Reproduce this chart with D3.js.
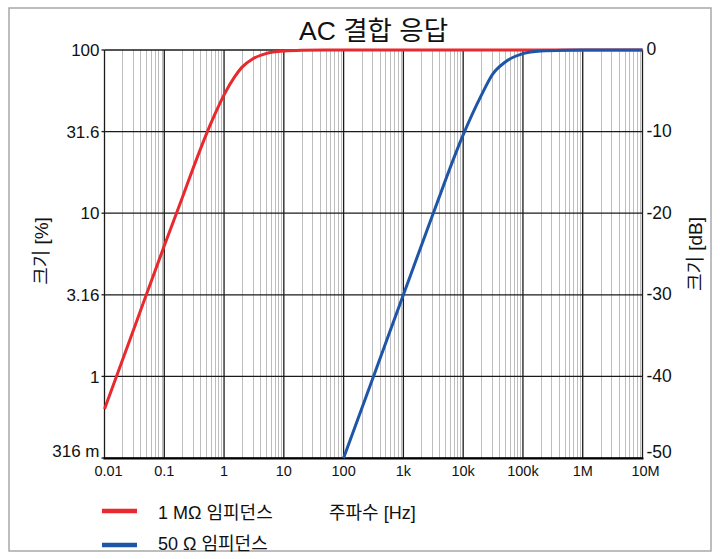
<!DOCTYPE html>
<html>
<head>
<meta charset="utf-8">
<script src="https://cdn.jsdelivr.net/npm/d3@7"></script>
<style>
  body { margin: 0; background: #fff; }
  svg text { font-family: "Liberation Sans", Arial, "Noto Sans CJK KR", sans-serif; fill: #111; }
</style>
</head>
<body>
<div class="container"></div>
<script>
const width = 720;
const height = 559;
const margin = { top: 50, bottom: 101, left: 104.5, right: 77.5 }

// data: frequency [Hz] and magnitude [dB]
const freqRed = [0.01, 0.02, 0.05, 0.1, 0.2, 0.3, 0.5, 0.7, 1, 1.5, 2, 3, 5, 10, 20, 50, 1e7]
const dbRed = [-44, -38, -30, -24, -18.1, -14.6, -10.4, -7.9, -5.5, -3.3, -2.1, -1.1, -0.45, -0.12, -0.03, 0, 0]

const freqBlue = [100, 316, 1000, 3160, 10000, 20000, 31600, 50000, 100000, 200000, 500000, 1e6, 1e7]
const dbBlue = [-50, -40, -30, -20, -10.4, -5.6, -2.9, -1.5, -0.45, -0.12, -0.02, 0, 0]

const xTicks = [0.01, 0.1, 1, 10, 100, 1e3, 1e4, 1e5, 1e6, 1e7]
const xTickLabels = ["0.01", "0.1", "1", "10", "100", "1k", "10k", "100k", "1M", "10M"]
const dbTicks = [0, -10, -20, -30, -40, -50]
const pctTickLabels = ["100", "31.6", "10", "3.16", "1", "316 m"]

const seriesNames = ["1 MΩ 임피던스", "50 Ω 임피던스"]
const seriesColors = ["#e8292e", "#1f55a6"]

const xScale = d3.scaleLog()
    .domain([0.01, 1e7])
    .range([margin.left, width - margin.right]);

const yScale = d3.scaleLinear()
    .domain([-50, 0])
    .range([height - margin.bottom, margin.top]);

const svg = d3.select(".container")
    .append("svg")
    .attr("width", width)
    .attr("height", height);

// outer frame
svg.append("rect")
    .attr("x", 9).attr("y", 8)
    .attr("width", 702).attr("height", 543)
    .attr("fill", "none")
    .attr("stroke", "#a8a8a8")
    .attr("stroke-width", 1.5);

// minor vertical grid
const minor = [];
for (let e = -2; e < 7; e++) {
    for (let m = 2; m <= 9; m++) minor.push(m * Math.pow(10, e));
}
svg.append("g")
    .selectAll("line")
    .data(minor)
    .join("line")
    .attr("x1", d => Math.round(xScale(d)) + 0.5)
    .attr("x2", d => Math.round(xScale(d)) + 0.5)
    .attr("y1", yScale(0))
    .attr("y2", yScale(-50))
    .attr("stroke", "#bdbdbd")
    .attr("stroke-width", 1);

// major vertical grid
svg.append("g")
    .selectAll("line")
    .data(xTicks)
    .join("line")
    .attr("x1", d => xScale(d))
    .attr("x2", d => xScale(d))
    .attr("y1", yScale(0))
    .attr("y2", yScale(-50))
    .attr("stroke", "#1a1a1a")
    .attr("stroke-width", 1.3);

// horizontal grid
svg.append("g")
    .selectAll("line")
    .data(dbTicks)
    .join("line")
    .attr("x1", xScale(0.01))
    .attr("x2", xScale(1e7))
    .attr("y1", d => yScale(d))
    .attr("y2", d => yScale(d))
    .attr("stroke", "#1a1a1a")
    .attr("stroke-width", 1.3);

// left stubs
svg.append("g")
    .selectAll("line")
    .data(dbTicks)
    .join("line")
    .attr("x1", xScale(0.01) - 3)
    .attr("x2", xScale(0.01))
    .attr("y1", d => yScale(d))
    .attr("y2", d => yScale(d))
    .attr("stroke", "#1a1a1a")
    .attr("stroke-width", 1.3);

// bottom axis line
svg.append("line")
    .attr("x1", xScale(0.01) - 1)
    .attr("x2", xScale(1e7) + 1)
    .attr("y1", yScale(-50) + 0.5)
    .attr("y2", yScale(-50) + 0.5)
    .attr("stroke", "#000")
    .attr("stroke-width", 2.2);

// curves
const line = d3.line()
    .x(d => xScale(d[0]))
    .y(d => yScale(d[1]))
    .curve(d3.curveMonotoneX);

const series = [
    d3.zip(freqRed, dbRed),
    d3.zip(freqBlue, dbBlue)
];

svg.append("g")
    .selectAll("path")
    .data(series)
    .join("path")
    .attr("d", line)
    .attr("fill", "none")
    .attr("stroke", (d, i) => seriesColors[i])
    .attr("stroke-width", 3);

// tick labels
svg.append("g")
    .selectAll("text")
    .data(xTicks)
    .join("text")
    .attr("x", (d, i) => xScale(d) + (i === 0 ? 4 : i === xTicks.length - 1 ? 3 : 0))
    .attr("y", 476)
    .attr("text-anchor", "middle")
    .attr("font-size", "14.5px")
    .text((d, i) => xTickLabels[i]);

svg.append("g")
    .selectAll("text")
    .data(dbTicks)
    .join("text")
    .attr("x", xScale(0.01) - 5)
    .attr("y", (d, i) => yScale(d) - (i === dbTicks.length - 1 ? 7 : 0))
    .attr("dy", "0.36em")
    .attr("text-anchor", "end")
    .attr("font-size", "17px")
    .text((d, i) => pctTickLabels[i]);

svg.append("g")
    .selectAll("text")
    .data(dbTicks)
    .join("text")
    .attr("x", xScale(1e7) + 4)
    .attr("y", (d, i) => yScale(d) - (i === dbTicks.length - 1 ? 6 : 1))
    .attr("dy", "0.36em")
    .attr("text-anchor", "start")
    .attr("font-size", "17.5px")
    .text(d => d);

// titles
const midX = (xScale(0.01) + xScale(1e7)) / 2;
const midY = (yScale(0) + yScale(-50)) / 2;

svg.append("text")
    .attr("x", midX)
    .attr("y", 40)
    .attr("text-anchor", "middle")
    .attr("font-size", "26.5px")
    .text("AC 결합 응답");

svg.append("text")
    .attr("transform", `translate(48, ${midY - 3}) rotate(-90)`)
    .attr("text-anchor", "middle")
    .attr("font-size", "19px")
    .text("크기 [%]");

svg.append("text")
    .attr("transform", `translate(702, ${midY}) rotate(-90)`)
    .attr("text-anchor", "middle")
    .attr("font-size", "19px")
    .text("크기 [dB]");

svg.append("text")
    .attr("x", 329)
    .attr("y", 519)
    .attr("font-size", "18px")
    .text("주파수 [Hz]");

// legend
const legend = svg.append("g")
    .selectAll("g")
    .data(seriesNames)
    .join("g")
    .attr("transform", (d, i) => `translate(102, ${511 + i * 34})`);

legend.append("line")
    .attr("x1", 0).attr("x2", 35)
    .attr("stroke", (d, i) => seriesColors[i])
    .attr("stroke-width", 4.5);

legend.append("text")
    .attr("x", 56)
    .attr("y", (d, i) => i === 0 ? 8 : 5)
    .attr("font-size", "18px")
    .text(d => d);
</script>
</body>
</html>
